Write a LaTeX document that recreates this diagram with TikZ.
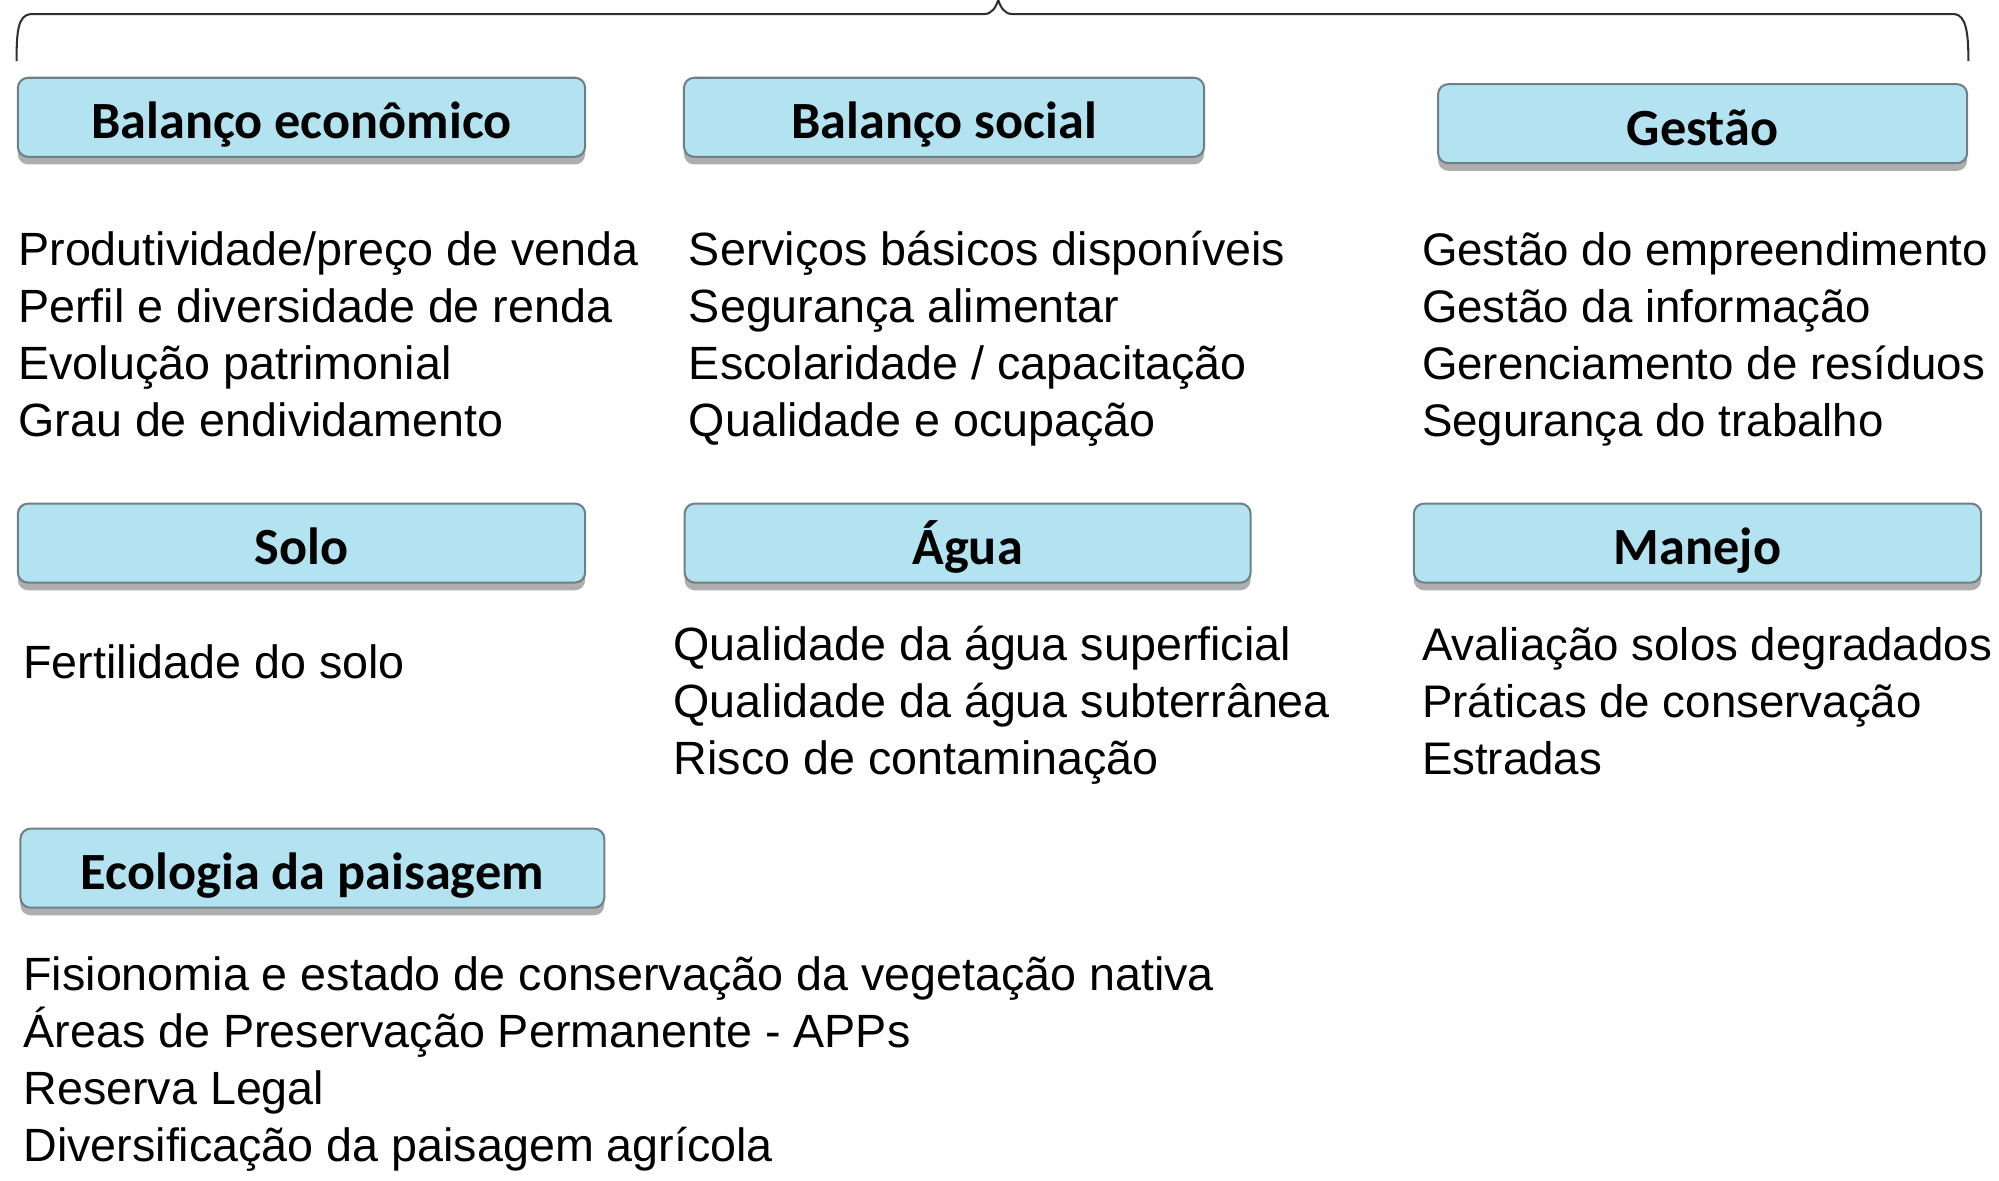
\documentclass[tikz,border=0pt]{standalone}
\usepackage{fontspec}
\setmainfont{Liberation Sans}
\newfontfamily\labelfont{Carlito}
\usetikzlibrary{shadows}
\definecolor{boxfill}{HTML}{B3E3F0}
\definecolor{boxline}{HTML}{6F7F86}
\definecolor{bracecol}{HTML}{303030}
\newcommand{\myitemfont}{\fontsize{18.3}{21}\selectfont}
\newcommand{\myitemfontc}{\fontsize{17.9}{21}\selectfont}
\tikzset{
  box/.style={draw=boxline, line width=0.8pt, fill=boxfill, rounded corners=4pt,
    minimum height=31pt, inner sep=0pt, text height=17pt, text depth=0pt,
    font=\labelfont\bfseries\fontsize{20.5}{24}\selectfont,
    drop shadow={shadow xshift=0pt, shadow yshift=-3pt, opacity=0.45, fill=black!70}},
  item/.style={anchor=base west, inner sep=0pt, font=\myitemfont},
  itemc/.style={anchor=base west, inner sep=0pt, font=\myitemfontc}
}
\begin{document}
\begin{tikzpicture}[x=0.5pt,y=-0.5pt]
\useasboundingbox (0,0) rectangle (1568,926);
% brace
\draw[bracecol, line width=0.8pt] (13,48) .. controls (13,25) and (14,12) .. (24,11)
  -- (772,11) .. controls (778,11) and (781,6) .. (783,0)
  .. controls (785,6) and (788,11) .. (794,11)
  -- (1533,11) .. controls (1542,12) and (1544,25) .. (1544,48);
% boxes
\node[box, minimum width=222.5pt] (be) at (236.5,92) {Balanço econômico};
\node[box, minimum width=204pt] (bs) at (740.5,92) {Balanço social};
\node[box, minimum width=207.5pt] (ge) at (1335.5,97) {Gestão};
\node[box, minimum width=222.5pt] (so) at (236.5,426) {Solo};
\node[box, minimum width=222pt] (ag) at (759,426) {Água};
\node[box, minimum width=222.5pt] (ma) at (1331.5,426) {Manejo};
\node[box, minimum width=229pt] (ec) at (245,681) {Ecologia da paisagem};
% column 1
\node[item] (e1) at (14,208) {Produtividade/preço de venda};
\node[item] (e2) at (14,252.7) {Perfil e diversidade de renda};
\node[item] (e3) at (14,297.4) {Evolução patrimonial};
\node[item] (e4) at (14,342.1) {Grau de endividamento};
% column 2
\node[item] (s1) at (540,208) {Serviços básicos disponíveis};
\node[item] (s2) at (540,252.7) {Segurança alimentar};
\node[item] (s3) at (540,297.4) {Escolaridade / capacitação};
\node[item] (s4) at (540,342.1) {Qualidade e ocupação};
% column 3
\node[itemc] (g1) at (1115,208) {Gestão do empreendimento};
\node[itemc] (g2) at (1115,252.7) {Gestão da informação};
\node[itemc] (g3) at (1115,297.4) {Gerenciamento de resíduos};
\node[itemc] (g4) at (1115,342.1) {Segurança do trabalho};
% solo
\node[item] (o1) at (18,532) {Fertilidade do solo};
% agua
\node[item] (a1) at (528,518) {Qualidade da água superficial};
\node[item] (a2) at (528,562.7) {Qualidade da água subterrânea};
\node[item] (a3) at (528,607.4) {Risco de contaminação};
% manejo
\node[itemc] (m1) at (1115,518) {Avaliação solos degradados};
\node[itemc] (m2) at (1115,562.7) {Práticas de conservação};
\node[itemc] (m3) at (1115,607.4) {Estradas};
% ecologia
\node[item] (c1) at (18,777) {Fisionomia e estado de conservação da vegetação nativa};
\node[item] (c2) at (18,821.7) {Áreas de Preservação Permanente - APPs};
\node[item] (c3) at (18,866.4) {Reserva Legal};
\node[item] (c4) at (18,911.1) {Diversificação da paisagem agrícola};
\end{tikzpicture}
\end{document}
